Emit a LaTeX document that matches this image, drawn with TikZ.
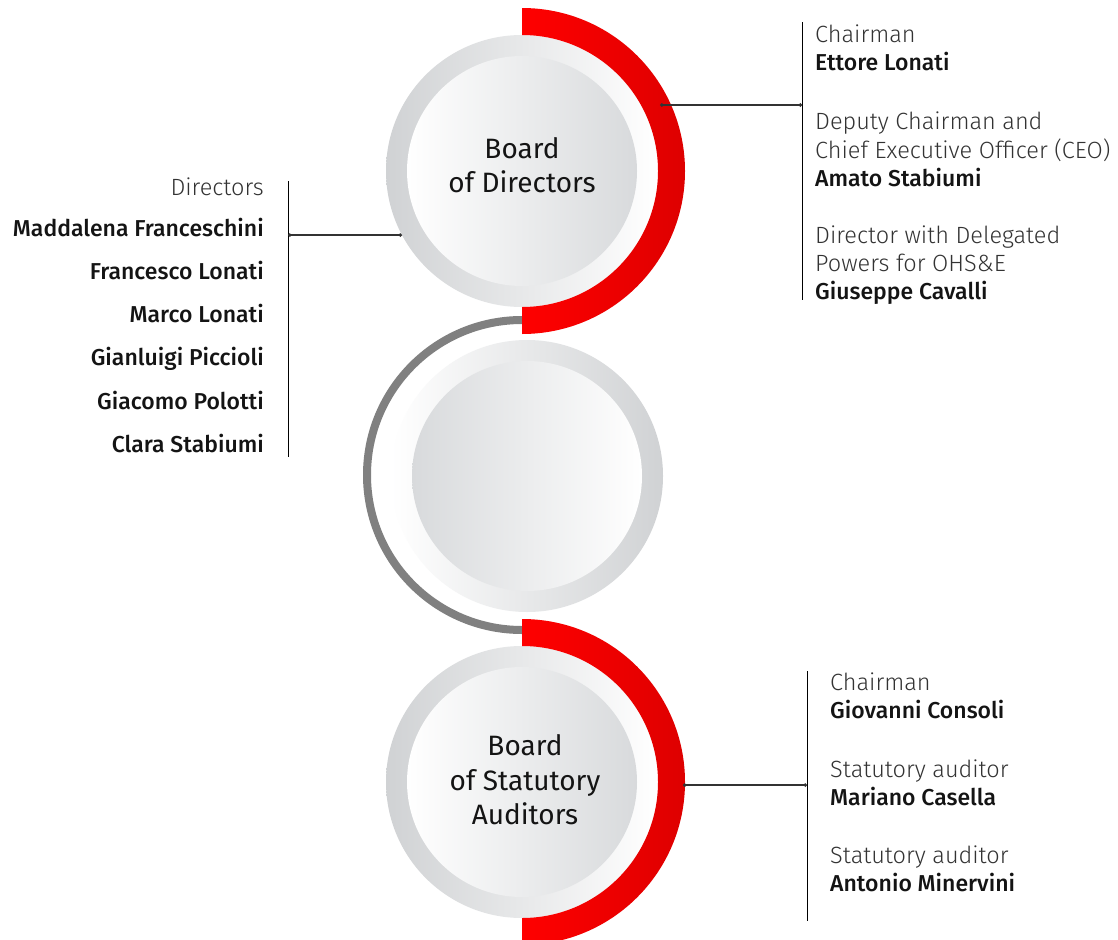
\documentclass[tikz,border=0pt]{standalone}
\usepackage{fontspec}
\usetikzlibrary{arrows.meta}
\setmainfont{Fira Sans}
\IfFontExistsTF{Fira Sans Light}{\newfontfamily\lightf{Fira Sans Light}}{\newfontfamily\lightf{Fira Sans}}
\IfFontExistsTF{Fira Sans Medium}{\newfontfamily\boldf{Fira Sans Medium}}{\newfontfamily\boldfx{Fira Sans}\def\boldf{\boldfx\bfseries}}
\newfontfamily\titlef{Fira Sans}
\definecolor{ringgray}{HTML}{D0D2D4}
\definecolor{innergray}{HTML}{D8DADC}
\definecolor{redA}{HTML}{FF0000}
\definecolor{redB}{HTML}{DE0000}
\definecolor{arcgray}{HTML}{808080}
\definecolor{labgray}{HTML}{333333}
\definecolor{nameblack}{HTML}{141414}
\definecolor{connc}{HTML}{333333}
\begin{document}
\begin{tikzpicture}[x=1bp,y=-1bp,
  lbl/.style={font=\lightf\fontsize{23.5bp}{28bp}\selectfont, text=labgray, inner sep=0pt},
  nm/.style={font=\boldf\fontsize{23bp}{28bp}\selectfont, text=nameblack, inner sep=0pt},
  ttl/.style={font=\titlef\fontsize{28bp}{34.5bp}\selectfont, align=center, text=nameblack, inner sep=0pt},
  vline/.style={draw=black, line width=1bp},
  conn/.style={draw=connc, line width=1.2bp, {Circle[length=3.5bp]}-{Circle[length=3.5bp]}},
  redarc/.style={left color=redA, middle color=redA, right color=redB}
]
\useasboundingbox (0,0) rectangle (1118,940);
\fill[white] (0,0) rectangle (1118,940);

% middle grey arc
\draw[arcgray, line width=8bp] (522,320) arc[start angle=-90, end angle=-270, radius=155];

% top circle
\shade[left color=ringgray, right color=white] (522,171) circle[radius=136];
\shade[left color=white, right color=innergray] (522,171) circle[radius=115];
\shade[redarc] (522,8) arc[start angle=-90, end angle=90, radius=163] -- (522,307) arc[start angle=90, end angle=-90, radius=136] -- cycle;
\node[ttl] (bod) at (522,165) {Board\\of Directors};

% middle circle
\shade[left color=white, right color=ringgray] (527,476) circle[radius=136];
\shade[left color=innergray, right color=white] (527,476) circle[radius=115];

% bottom circle
\shade[left color=ringgray, right color=white] (522,782) circle[radius=136];
\shade[left color=white, right color=innergray] (522,782) circle[radius=115];
\shade[redarc] (522,619) arc[start angle=-90, end angle=90, radius=163] -- (522,918) arc[start angle=90, end angle=-90, radius=136] -- cycle;
\node[ttl] (bsa) at (525,780) {Board\\of Statutory\\Auditors};

% coordinates
\coordinate (trA) at (660,105);
\coordinate (trB) at (802,105);
\coordinate (trT) at (802,22);
\coordinate (trD) at (802,300);
\coordinate (lA) at (402,235);
\coordinate (lB) at (288,235);
\coordinate (lT) at (288,181);
\coordinate (lD) at (288,457);
\coordinate (bA) at (683,785);
\coordinate (bB) at (807,785);
\coordinate (bT) at (807,671);
\coordinate (bD) at (807,921);

\draw[vline] (trT) -- (trD);
\draw[vline] (lT) -- (lD);
\draw[vline] (bT) -- (bD);
\draw[conn] (trA) -- (trB);
\draw[conn] (lA) -- (lB);
\draw[conn] (bA) -- (bB);

% top right texts
\node[lbl, anchor=base west] (t1) at (815,42) {Chairman};
\node[nm, anchor=base west] (t2) at (815,70) {Ettore Lonati};
\node[lbl, anchor=base west] (t3) at (815,129) {Deputy Chairman and};
\node[lbl, anchor=base west] (t4) at (815,158) {Chief Executive Officer (CEO)};
\node[nm, anchor=base west] (t5) at (815,186) {Amato Stabiumi};
\node[lbl, anchor=base west] (t6) at (815,243) {Director with Delegated};
\node[lbl, anchor=base west] (t7) at (815,271) {Powers for OHS\&E};
\node[nm, anchor=base west] (t8) at (815,299) {Giuseppe Cavalli};

% left texts
\node[lbl, anchor=base east] (l0) at (264,195) {Directors};
\node[nm, anchor=base east] (l1) at (264,236) {Maddalena Franceschini};
\node[nm, anchor=base east] (l2) at (264,279) {Francesco Lonati};
\node[nm, anchor=base east] (l3) at (264,322) {Marco Lonati};
\node[nm, anchor=base east] (l4) at (264,365) {Gianluigi Piccioli};
\node[nm, anchor=base east] (l5) at (264,409) {Giacomo Polotti};
\node[nm, anchor=base east] (l6) at (264,452) {Clara Stabiumi};

% bottom right texts
\node[lbl, anchor=base west] (b1) at (830,690) {Chairman};
\node[nm, anchor=base west] (b2) at (830,718) {Giovanni Consoli};
\node[lbl, anchor=base west] (b3) at (830,777) {Statutory auditor};
\node[nm, anchor=base west] (b4) at (830,805) {Mariano Casella};
\node[lbl, anchor=base west] (b5) at (830,863) {Statutory auditor};
\node[nm, anchor=base west] (b6) at (830,891) {Antonio Minervini};
\end{tikzpicture}
\end{document}
